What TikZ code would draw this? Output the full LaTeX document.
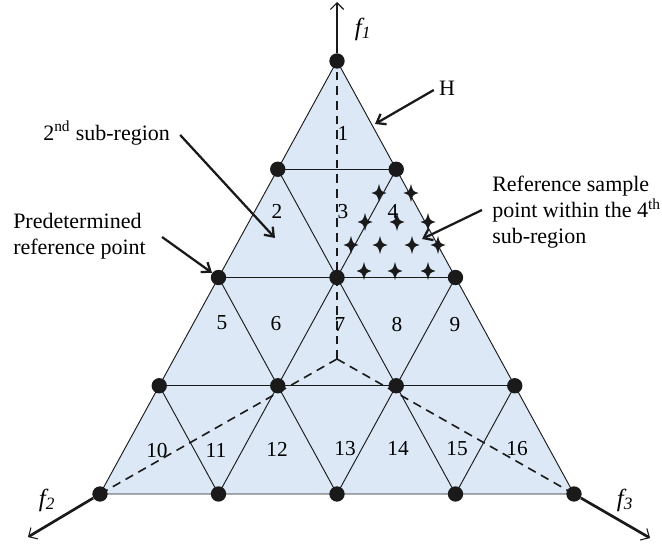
\documentclass[tikz,border=0pt]{standalone}
\usepackage{fontspec}
\setmainfont{Liberation Serif}
\usepackage{tikz}
\usetikzlibrary{arrows.meta,calc,positioning}
\usepackage{xcolor}
\definecolor{ink}{HTML}{1A1A1A}
\definecolor{pale}{HTML}{DCE8F6}
\tikzset{gridline/.style={draw=ink,line width=.7pt,line join=round},centreline/.style={draw=ink,line width=1.2pt,dash pattern=on 6.5pt off 4.5pt}, gridpt/.style={circle,fill=ink,inner sep=0pt,minimum size=11.5pt},axisline/.style={draw=ink,line width=2pt,-{Straight Barb[length=5pt,width=10pt,line width=.8pt]}}, pointer/.style={draw=ink,line width=1.7pt,-{Straight Barb[length=6pt,width=9pt]}},note/.style={font=\fontsize{16.5}{19.5}\selectfont,align=left,inner sep=0pt}, cellno/.style={font=\fontsize{16}{18}\selectfont,inner sep=0pt},axisname/.style={font=\fontsize{18.5}{20}\selectfont\itshape,inner sep=0pt}, spark/.pic={\fill[ink] (0,-9) .. controls (1.8,-1.8) .. (7.5,0) .. controls (1.8,1.8) .. (0,9) .. controls (-1.8,1.8) .. (-7.5,0) .. controls (-1.8,-1.8) .. (0,-9) -- cycle;}}

\begin{document}
\begin{tikzpicture}[x=.75pt,y=-.75pt]
\useasboundingbox (0,0) rectangle (662,546);
% lattice points: row r, place k
\foreach \r in {0,...,4}{
 \foreach \k in {0,...,\r}{
  \pgfmathsetmacro{\px}{337+(\k-\r/2)*118.5}
  \pgfmathsetmacro{\py}{61+\r*108.25}
  \coordinate (p\r\k) at (\px,\py);
 }}
\coordinate (o) at (337,359);
\fill[pale] (p00) -- (p40) -- (p44) -- cycle;
\foreach \v in {p00,p40,p44}{\draw[centreline] (o) -- (\v);}
\foreach \k in {1,2,3}{
 \pgfmathtruncatemacro{\kk}{4-\k}
 \draw[gridline] (p\k0) -- (p\k\k);
 \draw[gridline] (p\k\k) -- (p4\k);
 \draw[gridline] (p\k0) -- (p4\kk);
}
\draw[gridline] (p00) -- (p40) -- (p44) -- cycle;
\foreach \r in {0,...,4}{\foreach \k in {0,...,\r}{\node[gridpt] (d\r\k) at (p\r\k) {};}}
% sample points in sub-region 4
\foreach \sx/\sy in {379/193,411/193,365/222,397/222,428/222,351/245,380/245,412/245,438/245,364/271,395/271,428/271}
 \pic at (\sx,\sy) {spark};
\foreach \n/\lx/\ly in {1/343/133,2/277/211,3/343/212,4/393/211,5/222/323,6/276/324,7/340/325,8/397/325,9/455/325,10/157/451,11/216/450,12/277/449,13/345/449,14/398/448,15/457/449,16/517/449}
 \node[cellno] (n\n) at (\lx,\ly) {\n};
% objective axes
\coordinate (f1tip) at (337,2);
\coordinate (f2tip) at (28,537);
\coordinate (f3tip) at (650,538);
\draw[axisline] (d00) -- (f1tip);
\draw[axisline] (d40) -- (f2tip);
\draw[axisline] (d44) -- (f3tip);
\node[axisname] (f1) at (363,29) {f\textsubscript{1}};
\node[axisname] (f2) at (47,500) {f\textsubscript{2}};
\node[axisname] (f3) at (625,500) {f\textsubscript{3}};
% notes
\node[note] (hnote) at (447,88) {H};
\coordinate (hpt) at (375,124);
\draw[pointer] ($(hnote.west)+(-5,2)$) -- (hpt);
\node[note,anchor=west] (subnote) at (43,133) {2\textsuperscript{nd} sub-region};
\coordinate (subpt) at (275,238);
\draw[pointer] ($(subnote.east)+(10,2)$) -- (subpt);
\node[note,anchor=west] (prenote) at (13,236) {Predetermined\\reference point};
\draw[pointer] ($(prenote.east)+(16,1)$) -- (d20);
\node[note,anchor=west] (refnote) at (492,212) {Reference sample\\point within the 4\textsuperscript{th}\\sub-region};
\coordinate (refpt) at (422,239);
\draw[pointer] ($(refnote.west)+(-10,-2)$) -- (refpt);
\end{tikzpicture}
\end{document}
